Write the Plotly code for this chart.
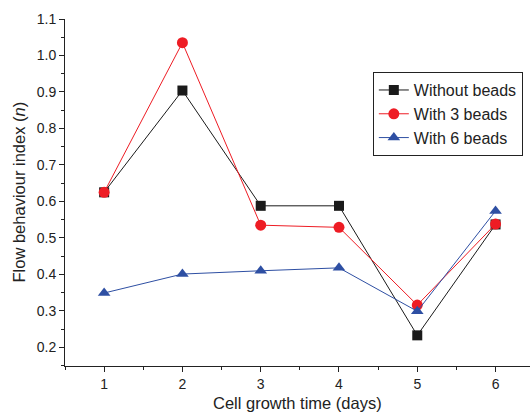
import plotly.graph_objects as go

days = [1, 2, 3, 4, 5, 6]
without_beads = [0.625, 0.904, 0.588, 0.588, 0.233, 0.537]
with_3_beads = [0.625, 1.035, 0.535, 0.529, 0.316, 0.538]
with_6_beads = [0.349, 0.401, 0.410, 0.418, 0.299, 0.574]
y_ticks = [0.2, 0.3, 0.4, 0.5, 0.6, 0.7, 0.8, 0.9, 1.0, 1.1]

fig = go.Figure()
fig.add_trace(go.Scatter(x=days, y=without_beads, name="Without beads", mode="lines+markers",
                         line=dict(color="#1a1a1a", width=1),
                         marker=dict(symbol="square", size=10, color="#1a1a1a")))
fig.add_trace(go.Scatter(x=days, y=with_3_beads, name="With 3 beads", mode="lines+markers",
                         line=dict(color="#ee1c24", width=1),
                         marker=dict(symbol="circle", size=11, color="#ee1c24")))
fig.add_trace(go.Scatter(x=days, y=with_6_beads, name="With 6 beads", mode="lines+markers",
                         line=dict(color="#2e4fa3", width=1),
                         marker=dict(symbol="triangle-up", size=11, color="#2e4fa3")))

font = "Liberation Sans, Arial, sans-serif"
fig.update_layout(
    width=530, height=412,
    margin=dict(l=65, r=0, t=19, b=46, autoexpand=False),
    paper_bgcolor="white", plot_bgcolor="white",
    font=dict(family=font, color="#222", size=14),
    showlegend=True,
    legend=dict(x=0.662, y=0.726, xanchor="left", yanchor="middle",
                bordercolor="#222", borderwidth=1, bgcolor="white",
                font=dict(size=16, family=font, color="#222"),
                tracegroupgap=0, itemwidth=30),
    xaxis=dict(range=[0.5, 6.44], tickvals=days, ticks="outside", ticklen=5, tickwidth=1,
               tickcolor="#222", showline=True, linecolor="#222", linewidth=1,
               showgrid=False, zeroline=False, automargin=False,
               minor=dict(dtick=0.5, tick0=0.5, ticks="outside", ticklen=3, tickcolor="#222"),
               tickfont=dict(size=14)),
    yaxis=dict(range=[0.149, 1.1], tickvals=y_ticks, ticktext=[f"{v:.1f}" for v in y_ticks],
               ticks="outside", ticklen=5, tickwidth=1,
               tickcolor="#222", showline=True, linecolor="#222", linewidth=1,
               showgrid=False, zeroline=False, automargin=False,
               minor=dict(dtick=0.05, tick0=0.15, ticks="outside", ticklen=3, tickcolor="#222"),
               tickfont=dict(size=14)),
    annotations=[
        dict(text="Cell growth time (days)", xref="paper", yref="paper", x=0.5, y=0.0,
             yshift=-26, yanchor="top", xanchor="center", showarrow=False,
             font=dict(size=16.5, family=font, color="#222")),
        dict(text="Flow behaviour index (<i>n</i>)", xref="paper", yref="paper", x=0, y=0.5,
             xshift=-47, xanchor="center", yanchor="middle", textangle=-90, showarrow=False,
             font=dict(size=16.5, family=font, color="#222")),
    ],
)

fig.write_html("out.html", config={"displayModeBar": False},
               post_script="document.body.style.margin='0px';")
